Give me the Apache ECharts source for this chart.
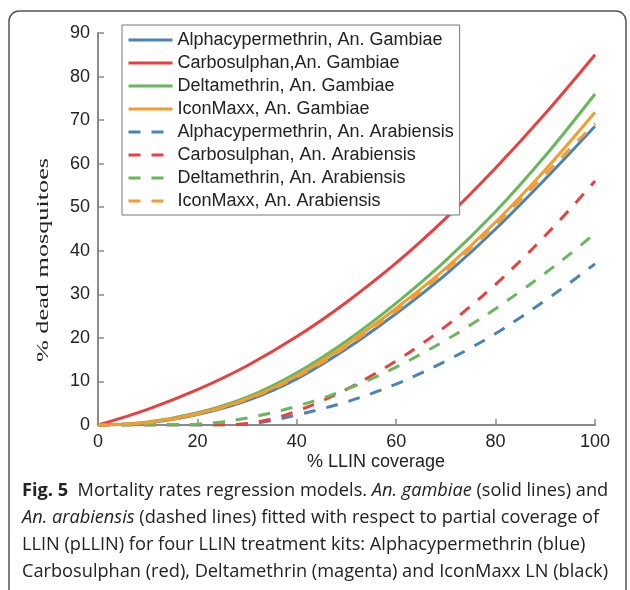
<!DOCTYPE html>
<html><head><meta charset="utf-8">
<script src="https://cdn.jsdelivr.net/npm/echarts@6/dist/echarts.min.js"></script>
<style>html,body{margin:0;padding:0;background:#fff}#c{width:630px;height:590px}</style>
</head><body><div id="c"></div><script>
// x positions (% LLIN coverage)
const xSolid = [0,10,20,30,40,50,60,70,80,90,100];
const xDashed = [0,5,10,15,20,25,30,35,40,45,50,55,60,65,70,75,80,85,90,95,100];
// An. gambiae (solid)
const alphaGambiae = [0,0.5,2.4,5.6,10.6,17.5,25.6,34.6,45.0,56.5,68.6];
const carboGambiae = [0,3.6,8.1,13.6,20.3,28.2,37.2,47.5,59.0,71.5,85];
const deltaGambiae = [0,0.7,2.8,6.4,12.0,19.3,28.0,37.8,49.0,61.8,76];
const iconGambiae  = [0,0.6,2.6,6.0,11.3,18.5,26.8,36.0,46.6,58.6,71.8];
// An. arabiensis (dashed)
const alphaArab = [0,0,0,0,0,0,0.2,1.0,2.3,3.7,5.3,7.2,9.4,11.9,14.7,17.7,21.0,24.7,28.6,32.7,37];
const carboArab = [0,0,0,0,0,0,0.35,1.4,3.2,5.5,8.2,11.3,14.7,18.5,22.7,27.3,32.3,37.7,43.5,49.6,56];
const deltaArab = [0,0,0,0,0.2,0.7,1.6,2.8,4.3,6.1,8.2,10.6,13.3,16.3,19.5,23.0,26.7,30.7,34.9,39.3,44];
const iconArab  = [0,0.1,0.5,1.3,2.5,4.0,5.9,8.2,11.0,14.3,18.0,22.0,26.2,30.7,35.5,40.6,46.0,51.7,57.6,63.5,69.2];

const names = ['Alphacypermethrin, An. Gambiae','Carbosulphan,An. Gambiae','Deltamethrin, An. Gambiae','IconMaxx, An. Gambiae',
  'Alphacypermethrin, An. Arabiensis','Carbosulphan, An. Arabiensis','Deltamethrin, An. Arabiensis','IconMaxx, An. Arabiensis'];
const colors = ['#4a83b8','#e8403f','#67b85a','#f89b2e'];
const solidData = [alphaGambiae, carboGambiae, deltaGambiae, iconGambiae];
const dashedData = [alphaArab, carboArab, deltaArab, iconArab];

const pairs = (xs, ys) => xs.map((x,i)=>[x, ys[i]]);
const series = [];
solidData.forEach((d,i)=>series.push({name:names[i], type:'line', data:pairs(xSolid,d), smooth:0.35,
  symbol:'none', showSymbol:false, lineStyle:{color:colors[i], width:3, type:'solid'}, itemStyle:{color:colors[i]}}));
dashedData.forEach((d,i)=>series.push({name:names[i+4], type:'line', data:pairs(xDashed,d), smooth:0.35,
  symbol:'none', showSymbol:false, lineStyle:{color:colors[i], width:3, type:[12,11]}, itemStyle:{color:colors[i]}}));

const axisCol = '#8a8a8a';
const capFont = '"Open Sans"';
const capSize = 18.2;
const chart = echarts.init(document.getElementById('c'), null, {renderer:'canvas'});
chart.setOption({
  animation:false,
  backgroundColor:'#fff',
  grid:{left:98, right:35, top:33, bottom:165, containLabel:false},
  xAxis:{type:'value', min:0, max:100, interval:20,
    axisLine:{lineStyle:{color:axisCol, width:2}},
    axisTick:{inside:true, length:6, lineStyle:{color:axisCol, width:1.5}},
    axisLabel:{color:'#222', fontSize:18, fontFamily:'Liberation Sans', margin:8},
    splitLine:{show:false}},
  yAxis:{type:'value', min:0, max:90, interval:10,
    axisLine:{show:true, lineStyle:{color:axisCol, width:2}},
    axisTick:{show:true, inside:true, length:6, lineStyle:{color:axisCol, width:1.5}},
    axisLabel:{color:'#222', fontSize:18, fontFamily:'Liberation Sans', margin:8},
    splitLine:{show:false}},
  legend:{data:names, orient:'vertical', left:122, top:25, itemWidth:44, itemHeight:14, itemGap:3,
    padding:[5,6,4,5], borderColor:'#777', borderWidth:1, backgroundColor:'#fff',
    itemStyle:{opacity:0}, lineStyle:{width:3},
    textStyle:{fontSize:18, fontFamily:'Liberation Sans', color:'#222', lineHeight:20}},
  graphic:[
    {type:'rect', z:-10, shape:{x:9, y:11, width:617, height:620, r:10}, style:{fill:'none', stroke:'#555', lineWidth:1.5}},
    {type:'text', x:43, y:260, rotation:Math.PI/2, scaleX:1.5, style:{text:'% dead mosquitoes', font:'17.5px "Liberation Serif"', fill:'#222', align:'center', verticalAlign:'middle'}},
    {type:'text', x:376, y:462, style:{text:'% LLIN coverage', font:'18px "Liberation Sans"', fill:'#222', align:'center', verticalAlign:'middle'}},
    {type:'text', x:22, y:491, style:{text:'{b|Fig. 5}  Mortality rates regression models. {i|An. gambiae} (solid lines) and', font:capSize+'px '+capFont, fill:'#222', verticalAlign:'middle',
      rich:{b:{fontWeight:'bold', fontSize:capSize, fontFamily:capFont, fill:'#222'}, i:{fontStyle:'italic', fontSize:capSize, fontFamily:capFont, fill:'#222'}}}},
    {type:'text', x:22, y:518, style:{text:'{i|An. arabiensis} (dashed lines) fitted with respect to partial coverage of', font:capSize+'px '+capFont, fill:'#222', verticalAlign:'middle',
      rich:{i:{fontStyle:'italic', fontSize:capSize, fontFamily:capFont, fill:'#222'}}}},
    {type:'text', x:22, y:545, style:{text:'LLIN (pLLIN) for four LLIN treatment kits: Alphacypermethrin (blue)', font:capSize+'px '+capFont, fill:'#222', verticalAlign:'middle'}},
    {type:'text', x:22, y:572, style:{text:'Carbosulphan (red), Deltamethrin (magenta) and IconMaxx LN (black)', font:capSize+'px '+capFont, fill:'#222', verticalAlign:'middle'}}
  ],
  series: series
});
</script></body></html>
